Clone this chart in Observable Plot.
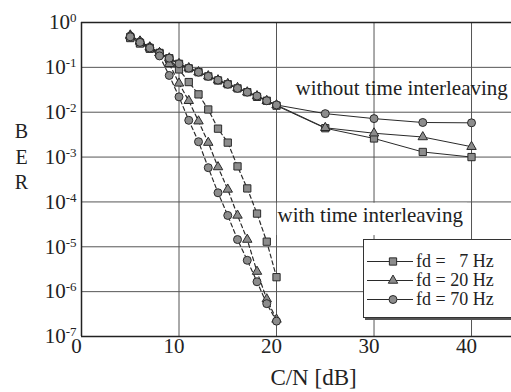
<!DOCTYPE html>
<html><head><meta charset="utf-8">
<script src="https://cdn.jsdelivr.net/npm/d3@7"></script>
<script src="https://cdn.jsdelivr.net/npm/@observablehq/plot@0.6"></script>
<style>
html,body{margin:0;padding:0;background:#fff;}
#wrap{position:relative;width:511px;height:392px;overflow:hidden;}
#legend{position:absolute;left:363px;top:239px;width:170px;height:77px;background:#fff;border:1px solid #333;box-shadow:2px 2px 0 #555;font-family:"Liberation Serif",serif;font-size:18px;color:#222;}
.row{position:absolute;left:3px;height:19px;display:flex;align-items:center;white-space:pre;}
.row svg{margin-right:3px;}
</style></head>
<body><div id="wrap"></div>
<script>
// C/N [dB]
const cnWithout = [5,6,7,8,9,10,11,12,13,14,15,16,17,18,19,20,25,30,35,40];
const cnWith = [5,6,7,8,9,10,11,12,13,14,15,16,17,18,19,20];
const seriesNames = ["7 Hz","20 Hz","70 Hz"];
// BER without time interleaving (solid)
const berWithout7 = [0.47,0.35,0.27,0.21,0.16,0.12,0.095,0.078,0.063,0.051,0.042,0.034,0.028,0.022,0.018,0.014,0.0044,0.0026,0.0013,0.0010];
const berWithout20 = [0.52,0.38,0.28,0.21,0.16,0.12,0.097,0.079,0.064,0.052,0.043,0.035,0.028,0.023,0.018,0.0145,0.0045,0.0034,0.0028,0.0017];
const berWithout70 = [0.50,0.37,0.28,0.21,0.16,0.12,0.096,0.078,0.063,0.052,0.042,0.034,0.028,0.023,0.018,0.0145,0.0093,0.0072,0.0059,0.0058];
// BER with time interleaving (dashed)
const berWith7 = [0.45,0.34,0.26,0.20,0.15,0.09,0.047,0.025,0.0115,0.0043,0.0021,6.2e-4,2.0e-4,5.5e-5,1.3e-5,2.1e-6];
const berWith20 = [0.50,0.38,0.28,0.21,0.12,0.044,0.018,0.0063,0.0021,6.0e-4,1.9e-4,5.0e-5,1.45e-5,2.8e-6,6.8e-7,2.4e-7];
const berWith70 = [0.48,0.36,0.27,0.18,0.066,0.022,0.0066,0.0022,5.8e-4,1.6e-4,5.0e-5,1.45e-5,5.0e-6,1.66e-6,5.4e-7,2.2e-7];
const xTicks = [0,10,20,30,40];
const yTicks = [1,1e-1,1e-2,1e-3,1e-4,1e-5,1e-6,1e-7];
const xGrid = [10,20,30,40];
const yGrid = [1e-1,1e-2,1e-3,1e-4,1e-5,1e-6];
const annWithout = "without time interleaving";
const annWith = "with time interleaving";

const rows = [];
[[berWithout7,"7 Hz"],[berWithout20,"20 Hz"],[berWithout70,"70 Hz"]].forEach(([arr,s]) =>
  arr.forEach((v,i) => rows.push({cn: cnWithout[i], ber: v, fd: s, mode: "without"})));
[[berWith7,"7 Hz"],[berWith20,"20 Hz"],[berWith70,"70 Hz"]].forEach(([arr,s]) =>
  arr.forEach((v,i) => rows.push({cn: cnWith[i], ber: v, fd: s, mode: "with"})));
const solid = rows.filter(d => d.mode === "without");
const dashed = rows.filter(d => d.mode === "with");

const lineColor = "#2a2a2a";
const markerSize = {"7 Hz": 4.1, "20 Hz": 3.5, "70 Hz": 4.0};
const dotMarks = seriesNames.map(s => Plot.dot(rows.filter(d => d.fd === s), {
  x: "cn", y: "ber", symbol: "fd", r: markerSize[s], fill: "#8c8c8c", stroke: "#2a2a2a", strokeWidth: 1
}));

const plot = Plot.plot({
  width: 511, height: 392,
  marginLeft: 81, marginRight: 0, marginTop: 22, marginBottom: 56,
  style: {fontFamily: "Liberation Serif, serif", fontSize: "21px", color: "#222", background: "#fff"},
  x: {domain: [0, 44.1], label: null},
  y: {type: "log", domain: [1e-7, 1], label: null},
  symbol: {domain: seriesNames, range: ["square","triangle","circle"]},
  marks: [
    Plot.ruleX(xGrid, {stroke: "#555", strokeWidth: 1}),
    Plot.ruleY(yGrid, {stroke: "#555", strokeWidth: 1}),
    Plot.ruleX([0], {stroke: "#222", strokeWidth: 1.5}),
    Plot.ruleY([1, 1e-7], {stroke: "#222", strokeWidth: 1.5}),
    Plot.rect([annWith], {x1: 20.08, x2: 39.6, y1: 10 ** -4.03, y2: 10 ** -4.75, fill: "#fff"}),
    Plot.text([annWithout], {x: 21.95, y: 10 ** -1.47, text: d => d, textAnchor: "start", fontSize: 21, fill: "#222"}),
    Plot.text([annWith], {x: 20.1, y: 10 ** -4.30, text: d => d, textAnchor: "start", fontSize: 21, fill: "#222"}),
    Plot.line(solid, {x: "cn", y: "ber", z: "fd", stroke: lineColor, strokeWidth: 1}),
    Plot.line(dashed, {x: "cn", y: "ber", z: "fd", stroke: lineColor, strokeWidth: 1.2, strokeDasharray: "4,3"}),
    ...dotMarks,
    Plot.axisX({ticks: xTicks, tickSize: 0, tickPadding: 2, dx: -5, fontSize: 21, label: null, tickFormat: d => String(d)}),
    Plot.axisY({ticks: yTicks, tickSize: 0, tickPadding: 5, fontSize: 21, label: null, tickFormat: d => String(Math.round(Math.log10(d)))}),
    Plot.text(["C/N [dB]"], {frameAnchor: "bottom", dx: 17, dy: 41, lineAnchor: "middle", text: d => d, fontSize: 23, fill: "#222"}),
    Plot.text(["B\nE\nR"], {frameAnchor: "left", dx: -60, dy: -24, lineHeight: 1.27, text: d => d, fontSize: 20, fill: "#222", textAnchor: "middle"})
  ]
});

// superscript exponents for y tick labels
d3.select(plot).selectAll('g[aria-label="y-axis tick label"] text').each(function() {
  const e = this.textContent;
  const t = d3.select(this);
  t.text(null);
  t.append("tspan").text("10");
  t.append("tspan").attr("dy", "-7").attr("font-size", "13px").text(e);
});

const wrap = document.getElementById("wrap");
wrap.appendChild(plot);

// legend
const legend = document.createElement("div");
legend.id = "legend";
const legendLabels = ["fd = \u20077 Hz", "fd = 20 Hz", "fd = 70 Hz"];
const sym = {square: d3.symbolSquare, triangle: d3.symbolTriangle, circle: d3.symbolCircle};
["square","triangle","circle"].forEach((s, i) => {
  const row = document.createElement("div");
  row.className = "row";
  row.style.top = (12 + i * 19) + "px";
  const sv = d3.create("svg").attr("width", 46).attr("height", 19);
  sv.append("line").attr("x1", 0).attr("x2", 46).attr("y1", 9.5).attr("y2", 9.5).attr("stroke", lineColor).attr("stroke-width", 1);
  const rr = markerSize[seriesNames[i]];
  sv.append("path").attr("d", d3.symbol(sym[s], Math.PI * rr * rr)()).attr("transform", "translate(26,9.5)")
    .attr("fill", "#8c8c8c").attr("stroke", "#2a2a2a");
  row.appendChild(sv.node());
  const sp = document.createElement("span");
  sp.textContent = legendLabels[i];
  row.appendChild(sp);
  legend.appendChild(row);
});
wrap.appendChild(legend);
</script>
</body></html>
